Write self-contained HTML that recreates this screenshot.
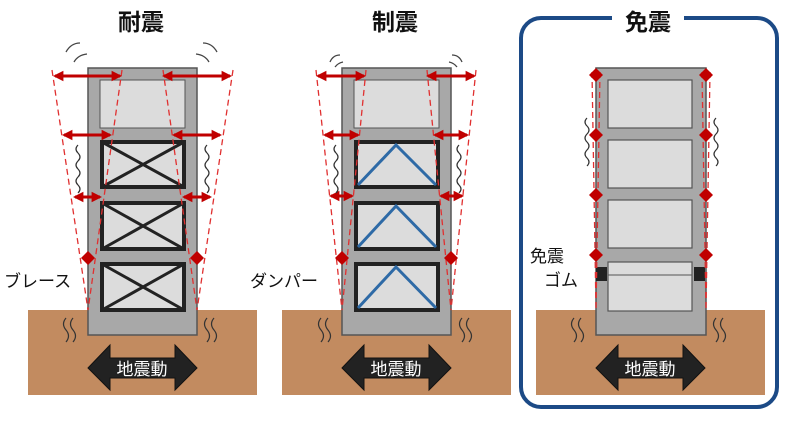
<!DOCTYPE html>
<html><head><meta charset="utf-8"><style>
html,body{margin:0;padding:0;background:#fff;}
svg{display:block;}
text{font-family:"Liberation Sans","Noto Sans CJK JP",sans-serif;}
</style></head><body>
<svg width="800" height="424" viewBox="0 0 800 424" xmlns="http://www.w3.org/2000/svg">
<defs>
<marker id="ah" viewBox="0 0 10 10" refX="8" refY="5" markerWidth="3.5" markerHeight="4" orient="auto-start-reverse"><path d="M0,0 L10,5 L0,10 z" fill="#c00000"/></marker>
<g id="dia"><path d="M0,-7 L7,0 L0,7 L-7,0 z" fill="#c00000"/></g>
<g id="quake">
<path d="M88,368 L110,345 L110,358 L175,358 L175,345 L197,368 L175,390 L175,378 L110,378 L110,390 z" fill="#222" stroke="#111"/>
<text x="142" y="375" font-size="17" fill="#fff" text-anchor="middle">地震動</text>
</g>
<g id="wig" fill="none" stroke="#333" stroke-width="1.2">
<path d="M0,0 q-4,4 0,8 q4,4 0,8 q-4,4 0,8 q4,4 0,8 q-4,4 0,8 q4,4 0,8"/>
</g>
<g id="gw" fill="none" stroke="#333" stroke-width="1.2">
<path d="M4,0 q-5,6 0,12 q5,6 0,12"/><path d="M11,0 q-5,6 0,12 q5,6 0,12"/>
</g>
</defs>

<!-- Panel 1 -->
<text x="141" y="30" font-size="23" font-weight="bold" text-anchor="middle" fill="#111">耐震</text>
<rect x="28" y="310" width="229" height="85" fill="#c28b60"/>
<rect x="88" y="68" width="109" height="267" fill="#a8a8a8" stroke="#555" stroke-width="1.5"/>
<rect x="100" y="80" width="85" height="48" fill="#dcdcdc" stroke="#555"/>
<g fill="#dcdcdc" stroke="#222" stroke-width="4">
<rect x="102" y="142" width="82" height="45"/><rect x="102" y="203" width="82" height="46"/><rect x="102" y="264" width="82" height="46"/>
</g>
<g stroke="#222" stroke-width="3">
<path d="M102,142 L184,187 M184,142 L102,187 M102,203 L184,249 M184,203 L102,249 M102,264 L184,310 M184,264 L102,310"/>
</g>
<g fill="none" stroke="#e03030" stroke-width="1.3" stroke-dasharray="6,4">
<path d="M52,70 L88,310 M122,70 L88,310 M233,70 L197,310 M163,70 L197,310"/>
</g>
<g stroke="#c00000" stroke-width="3" marker-start="url(#ah)" marker-end="url(#ah)">
<line x1="55" y1="76" x2="120" y2="76"/><line x1="164" y1="76" x2="230" y2="76"/>
<line x1="64" y1="135" x2="110" y2="135"/><line x1="174" y1="135" x2="220" y2="135"/>
<line x1="75" y1="197" x2="100" y2="197"/><line x1="184" y1="197" x2="210" y2="197"/>
</g>
<use href="#dia" x="88" y="258"/><use href="#dia" x="197" y="258"/>
<g fill="none" stroke="#444" stroke-width="1.3">
<path d="M66,52 q5,-9 14,-9"/><path d="M74,62 q4,-7 13,-8"/>
<path d="M217,52 q-5,-9 -14,-9"/><path d="M209,62 q-4,-7 -13,-8"/>
</g>
<use href="#wig" x="78" y="145"/><use href="#wig" x="207" y="145"/>
<use href="#gw" x="62" y="318"/><use href="#gw" x="203" y="318"/>
<text x="4" y="287" font-size="17" fill="#111">ブレース</text>
<use href="#quake"/>

<!-- Panel 2 -->
<text x="395" y="30" font-size="23" font-weight="bold" text-anchor="middle" fill="#111">制震</text>
<rect x="282" y="310" width="229" height="85" fill="#c28b60"/>
<rect x="342" y="68" width="109" height="267" fill="#a8a8a8" stroke="#555" stroke-width="1.5"/>
<rect x="354" y="80" width="85" height="48" fill="#dcdcdc" stroke="#555"/>
<g fill="#dcdcdc" stroke="#222" stroke-width="4">
<rect x="356" y="142" width="82" height="45"/><rect x="356" y="203" width="82" height="46"/><rect x="356" y="264" width="82" height="46"/>
</g>
<g fill="none" stroke="#2e6aa6" stroke-width="3">
<path d="M358,185 L396,145 L436,185 M358,247 L396,206 L436,247 M358,308 L396,267 L436,308"/>
</g>
<g fill="none" stroke="#e03030" stroke-width="1.3" stroke-dasharray="6,4">
<path d="M316,70 L342,310 M366,70 L342,310 M476,70 L451,310 M427,70 L451,310"/>
</g>
<g stroke="#c00000" stroke-width="3" marker-start="url(#ah)" marker-end="url(#ah)">
<line x1="318" y1="76" x2="364" y2="76"/><line x1="428" y1="76" x2="474" y2="76"/>
<line x1="325" y1="135" x2="358" y2="135"/><line x1="435" y1="135" x2="467" y2="135"/>
<line x1="331" y1="196" x2="352" y2="196"/><line x1="441" y1="196" x2="462" y2="196"/>
</g>
<use href="#dia" x="342" y="258"/><use href="#dia" x="451" y="258"/>
<g fill="none" stroke="#444" stroke-width="1.3">
<path d="M330,62 q3,-7 10,-7"/><path d="M335,67 q3,-4 8,-5"/>
<path d="M462,62 q-3,-7 -10,-7"/><path d="M457,67 q-3,-4 -8,-5"/>
</g>
<use href="#wig" x="336" y="145"/><use href="#wig" x="459" y="145"/>
<use href="#gw" x="317" y="318"/><use href="#gw" x="458" y="318"/>
<text x="250" y="287" font-size="17" fill="#111">ダンパー</text>
<use href="#quake" x="254"/>

<!-- Panel 3 -->
<rect x="521" y="18" width="256" height="389" rx="20" fill="none" stroke="#1c4a86" stroke-width="4"/>
<rect x="612" y="8" width="72" height="22" fill="#fff"/>
<text x="648" y="30" font-size="23" font-weight="bold" text-anchor="middle" fill="#111">免震</text>
<rect x="536" y="310" width="229" height="85" fill="#c28b60"/>
<rect x="596" y="68" width="110" height="267" fill="#a8a8a8" stroke="#555" stroke-width="1.5"/>
<g fill="#dcdcdc" stroke="#555" stroke-width="1.2">
<rect x="608" y="80" width="84" height="48"/><rect x="608" y="140" width="84" height="48"/><rect x="608" y="200" width="84" height="48"/><rect x="608" y="262" width="84" height="49"/>
</g>
<line x1="608" y1="275" x2="692" y2="275" stroke="#555"/>
<rect x="596" y="267" width="11" height="14" fill="#222"/><rect x="694" y="267" width="11" height="14" fill="#222"/>
<g fill="none" stroke="#e03030" stroke-width="1.3" stroke-dasharray="6,4">
<path d="M592,72 L596,310 M600,72 L596,310 M710,72 L706,310 M702,72 L706,310"/>
</g>
<g fill="#c00000">
<use href="#dia" x="596" y="75"/><use href="#dia" x="596" y="135"/><use href="#dia" x="596" y="195"/><use href="#dia" x="596" y="255"/>
<use href="#dia" x="706" y="75"/><use href="#dia" x="706" y="135"/><use href="#dia" x="706" y="195"/><use href="#dia" x="706" y="255"/>
</g>
<use href="#wig" x="587" y="118"/><use href="#wig" x="716" y="118"/>
<use href="#gw" x="570" y="318"/><use href="#gw" x="712" y="318"/>
<text x="530" y="262" font-size="17" fill="#111">免震</text>
<text x="544" y="286" font-size="17" fill="#111">ゴム</text>
<use href="#quake" x="508"/>
</svg>
</body></html>
